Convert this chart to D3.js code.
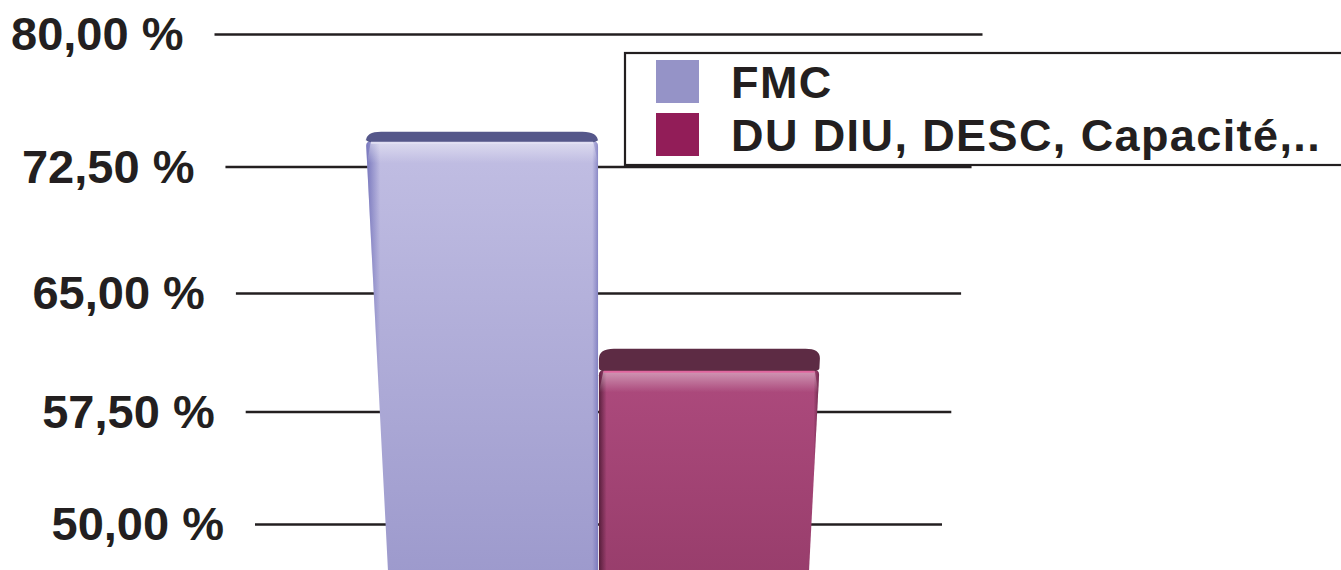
<!DOCTYPE html>
<html><head><meta charset="utf-8">
<script src="https://cdn.jsdelivr.net/npm/d3@7"></script>
<style>body{margin:0;background:#fff}svg{display:block}</style>
</head><body><svg id="c" width="1341" height="570"></svg>
<script>
// ---- data ----
const categories = ["FMC", "DU DIU, DESC, Capacité,.."];
const values = [74.5, 61.5];
const tickValues = [50, 57.5, 65, 72.5, 80];
const tickLabels = ["50,00 %", "57,50 %", "65,00 %", "72,50 %", "80,00 %"];

// ---- style ----
const swatch = ["#9593c7", "#921d58"];
const frontTop = ["#c1bee3", "#ad4a7d"];
const frontBot = ["#9c99cc", "#973d6b"];
const topFace = ["#55578a", "#5d2b44"];
const edgeCol = ["#5f5fb0", "#3f1229"];
const hiCol = ["#e4e2f5", "#e4649f"];
const ink = "#231f20";
const font = "'Liberation Sans', Arial, sans-serif";

const svg = d3.select("#c");
const defs = svg.append("defs");

// polylinear value scale (perspective spacing of the back wall)
const y = d3.scaleLinear().domain(tickValues).range([524.5, 412, 293.5, 167, 34.5]);
// perspective narrowing toward the bottom
const cx = 598.5;
const f = d3.scaleLinear().domain([34.5, 524.5]).range([1, 343.5 / 384]);
const px = (xb, yy) => cx + (xb - cx) * f(yy);
const wallL = 214.5, wallR = 982.5;
const x = d3.scaleBand().domain(categories).range([360.5, 836.5]).paddingInner(0.004);
const depth = d3.scaleLinear().domain([130.7, 348.3]).range([9.5, 21.5]);

// gridlines
const g = svg.append("g");
g.selectAll("line.grid").data(tickValues).join("line")
  .attr("x1", d => px(wallL, y(d))).attr("x2", d => px(wallR, y(d)))
  .attr("y1", d => y(d)).attr("y2", d => y(d))
  .attr("stroke", ink).attr("stroke-width", 2.6);
g.selectAll("text.tick").data(tickValues).join("text")
  .attr("x", d => px(wallL, y(d)) - 31).attr("y", d => y(d) + 15.5)
  .attr("text-anchor", "end").attr("font-family", font).attr("font-weight", "bold")
  .attr("font-size", 47).attr("fill", ink)
  .text((d, i) => tickLabels[i]);

// gradients
categories.forEach((c, i) => {
  const lg = defs.append("linearGradient").attr("id", "fv" + i)
    .attr("x1", 0).attr("x2", 0).attr("y1", 0).attr("y2", 1);
  lg.append("stop").attr("offset", 0).attr("stop-color", frontTop[i]);
  lg.append("stop").attr("offset", 1).attr("stop-color", frontBot[i]);
  const eg = defs.append("linearGradient").attr("id", "fe" + i)
    .attr("x1", 0).attr("x2", 1).attr("y1", 0).attr("y2", 0);
  const lw = i === 0 ? 0.06 : 0.035;
  eg.append("stop").attr("offset", 0).attr("stop-color", edgeCol[i]).attr("stop-opacity", 0.75);
  eg.append("stop").attr("offset", lw).attr("stop-color", edgeCol[i]).attr("stop-opacity", 0.0);
  eg.append("stop").attr("offset", 0.975).attr("stop-color", edgeCol[i]).attr("stop-opacity", 0.0);
  eg.append("stop").attr("offset", 1).attr("stop-color", edgeCol[i]).attr("stop-opacity", 0.55);
  const hg = defs.append("linearGradient").attr("id", "fh" + i)
    .attr("x1", 0).attr("x2", 0).attr("y1", 0).attr("y2", 1);
  hg.append("stop").attr("offset", 0).attr("stop-color", "#fff").attr("stop-opacity", 0.45);
  hg.append("stop").attr("offset", 1).attr("stop-color", "#fff").attr("stop-opacity", 0);
});

// bars
const bars = svg.append("g");
const yBot = y(46);
categories.forEach((c, i) => {
  const xl = x(c), xr = xl + x.bandwidth();
  const yb = y(values[i]);
  const yf = yb + depth(yb);
  const r = 10, rf = 5;
  const front = d3.path();
  front.moveTo(px(xl, yf + rf), yf + rf);
  front.quadraticCurveTo(px(xl, yf), yf, px(xl + rf, yf), yf);
  front.lineTo(px(xr - rf, yf), yf);
  front.quadraticCurveTo(px(xr, yf), yf, px(xr, yf + rf), yf + rf);
  front.lineTo(px(xr, yBot), yBot);
  front.lineTo(px(xl, yBot), yBot);
  front.closePath();
  bars.append("path").attr("d", front.toString()).attr("fill", `url(#fv${i})`);
  bars.append("path").attr("d", front.toString()).attr("fill", `url(#fe${i})`);
  // soft highlight near top of front face
  const hl = d3.path();
  const hb = yf + 22;
  hl.moveTo(px(xl + rf, yf), yf); hl.lineTo(px(xr - rf, yf), yf);
  hl.lineTo(px(xr, hb), hb); hl.lineTo(px(xl, hb), hb); hl.closePath();
  bars.append("path").attr("d", hl.toString()).attr("fill", `url(#fh${i})`);
  // top face
  const tp = d3.path();
  tp.moveTo(px(xl + rf, yf + 1), yf + 1);
  tp.quadraticCurveTo(px(xl, yf), yf, px(xl, yf - 2), yf - 2);
  tp.lineTo(px(xl, yb + r), yb + r);
  tp.quadraticCurveTo(px(xl, yb), yb, px(xl + r * 1.6, yb), yb);
  tp.lineTo(px(xr - r * 1.6, yb), yb);
  tp.quadraticCurveTo(px(xr, yb), yb, px(xr, yb + r), yb + r);
  tp.lineTo(px(xr, yf - 2), yf - 2);
  tp.quadraticCurveTo(px(xr, yf), yf, px(xr - rf, yf + 1), yf + 1);
  tp.closePath();
  bars.append("path").attr("d", tp.toString()).attr("fill", topFace[i]);
  // highlight edge line
  bars.append("line")
    .attr("x1", px(xl + 5, yf + 1)).attr("x2", px(xr - 5, yf + 1))
    .attr("y1", yf + 1.5).attr("y2", yf + 1.5)
    .attr("stroke", hiCol[i]).attr("stroke-width", 2).attr("stroke-opacity", 0.9);
});

// legend
const lgX = 625, lgY = 53, rowH = 53;
const leg = svg.append("g");
leg.append("rect").attr("x", lgX).attr("y", lgY).attr("width", 800).attr("height", 112)
  .attr("fill", "#fff").attr("stroke", ink).attr("stroke-width", 2.2);
leg.selectAll("rect.sw").data(categories).join("rect").attr("class", "sw")
  .attr("x", lgX + 31).attr("y", (d, i) => lgY + 7 + i * rowH)
  .attr("width", 43).attr("height", 43)
  .attr("fill", (d, i) => swatch[i]);
leg.selectAll("text.lt").data(categories).join("text").attr("class", "lt")
  .attr("x", lgX + 106).attr("y", (d, i) => lgY + 45 + i * rowH)
  .attr("font-family", font).attr("font-weight", "bold").attr("font-size", 45)
  .attr("letter-spacing", 1.4).attr("fill", ink)
  .text(d => d);
</script>
</body></html>
